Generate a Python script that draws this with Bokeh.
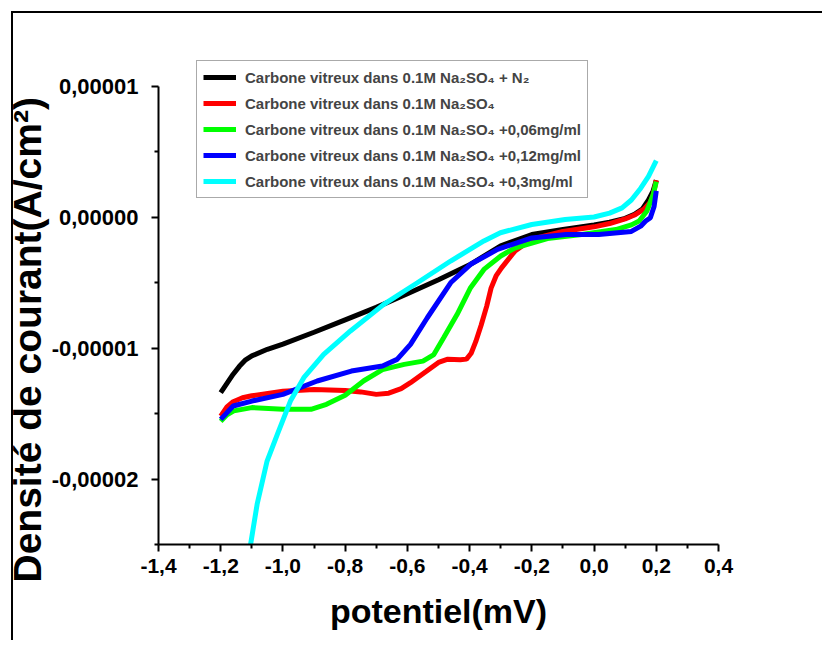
from bokeh.plotting import figure
from bokeh.models import Range1d, FixedTicker, Legend, LegendItem, Title
from bokeh.embed import file_html
from bokeh.resources import INLINE
import numpy as np

# ---- data (current density in units of 1e-5 A/cm^2) ----
SCALE = 1e-5

x_black = [-1.2, -1.18, -1.16, -1.14, -1.12, -1.1, -1.05, -1.0, -0.9, -0.8, -0.7, -0.6, -0.5, -0.4,
           -0.3, -0.2, -0.1, 0.0, 0.05, 0.1, 0.13, 0.155, 0.175, 0.19, 0.2]
y_black = [-1.34, -1.27, -1.2, -1.14, -1.09, -1.06, -1.01, -0.97, -0.88, -0.785, -0.69, -0.586, -0.479, -0.365,
           -0.22, -0.134, -0.095, -0.06, -0.04, -0.01, 0.02, 0.06, 0.13, 0.2, 0.28]

x_red = [-1.2, -1.18, -1.16, -1.13, -1.1, -1.0, -0.9, -0.8, -0.75, -0.7, -0.66, -0.62, -0.59, -0.54,
         -0.5, -0.47, -0.43, -0.41, -0.395, -0.38, -0.363, -0.345, -0.331, -0.315, -0.298, -0.255,
         -0.2, -0.1, 0.0, 0.05, 0.1, 0.13, 0.16, 0.18, 0.19, 0.2]
y_red = [-1.52, -1.45, -1.41, -1.38, -1.365, -1.33, -1.316, -1.325, -1.335, -1.354, -1.345, -1.31, -1.265, -1.18,
         -1.11, -1.085, -1.09, -1.085, -1.04, -0.95, -0.826, -0.68, -0.543, -0.45, -0.39, -0.262,
         -0.17, -0.11, -0.075, -0.05, -0.015, 0.015, 0.06, 0.11, 0.17, 0.28]

x_green = [-1.2, -1.18, -1.158, -1.1, -1.0, -0.91, -0.86, -0.8, -0.74, -0.68, -0.61, -0.55, -0.515,
           -0.483, -0.44, -0.397, -0.354, -0.3, -0.255, -0.15, -0.04, 0.07, 0.12, 0.145, 0.17, 0.19, 0.2]
y_green = [-1.56, -1.51, -1.48, -1.455, -1.468, -1.468, -1.43, -1.36, -1.25, -1.165, -1.125, -1.1, -1.05,
           -0.92, -0.743, -0.54, -0.4, -0.298, -0.237, -0.165, -0.134, -0.096, -0.06, -0.03, 0.046, 0.17, 0.27]

x_blue = [-1.2, -1.16, -1.1, -1.0, -0.89, -0.78, -0.68, -0.633, -0.59, -0.536, -0.461, -0.397, -0.31,
          -0.2, -0.09, 0.015, 0.12, 0.15, 0.166, 0.181, 0.193, 0.2]
y_blue = [-1.545, -1.443, -1.405, -1.354, -1.252, -1.176, -1.137, -1.087, -0.972, -0.769, -0.502, -0.361, -0.247,
          -0.16, -0.134, -0.134, -0.11, -0.07, -0.031, -0.005, 0.08, 0.2]

x_cyan = [-1.115, -1.104, -1.083, -1.051, -1.018, -0.976, -0.933, -0.869, -0.783, -0.676, -0.568, -0.461,
          -0.354, -0.301, -0.2, -0.093, 0.0, 0.05, 0.09, 0.12, 0.15, 0.175, 0.2]
y_cyan = [-2.8, -2.5, -2.193, -1.863, -1.659, -1.405, -1.227, -1.048, -0.87, -0.667, -0.502, -0.336,
          -0.183, -0.12, -0.057, -0.019, 0.0, 0.03, 0.07, 0.13, 0.22, 0.31, 0.43]

series_labels = [
    "Carbone vitreux dans 0.1M Na\u2082SO\u2084 + N\u2082",
    "Carbone vitreux dans 0.1M Na\u2082SO\u2084",
    "Carbone vitreux dans 0.1M Na\u2082SO\u2084 +0,06mg/ml",
    "Carbone vitreux dans 0.1M Na\u2082SO\u2084 +0,12mg/ml",
    "Carbone vitreux dans 0.1M Na\u2082SO\u2084 +0,3mg/ml",
]
series_colors = ["#000000", "#FF0000", "#00FF00", "#0000FF", "#00FFFF"]

x_ticks = [-1.4, -1.2, -1.0, -0.8, -0.6, -0.4, -0.2, 0.0, 0.2, 0.4]
x_tick_labels = ["-1,4", "-1,2", "-1,0", "-0,8", "-0,6", "-0,4", "-0,2", "0,0", "0,2", "0,4"]
x_minor = [-1.3, -1.1, -0.9, -0.7, -0.5, -0.3, -0.1, 0.1, 0.3]
y_ticks = [-2e-5, -1e-5, 0.0, 1e-5]
y_tick_labels = ["-0,00002", "-0,00001", "0,00000", "0,00001"]
y_minor = [-2.5e-5, -1.5e-5, -0.5e-5, 0.5e-5]
y_axis_bounds = (-2.5e-5, 1e-5)

FONT = "Liberation Sans"

p = figure(width=822, height=640, output_backend="svg", toolbar_location=None,
           x_range=Range1d(-1.4, 0.4), y_range=Range1d(-2.5e-5, 1.1947e-5),
           min_border_left=158, min_border_right=104, min_border_top=60, min_border_bottom=96)
# document box line (top + left) around the chart
p.styles = {
    "background-image": "linear-gradient(#000, #000), linear-gradient(#000, #000)",
    "background-size": "2px 100%, 100% 2px",
    "background-position": "11px 11px, 11px 11px",
    "background-repeat": "no-repeat",
}
p.outline_line_color = None
p.xgrid.visible = False
p.ygrid.visible = False
p.background_fill_color = "white"
p.border_fill_alpha = 0.0

all_x = [x_black, x_red, x_green, x_blue, x_cyan]
all_y = [y_black, y_red, y_green, y_blue, y_cyan]
renderers = []
for xs, ys, c in zip(all_x, all_y, series_colors):
    r = p.line(xs, list(np.array(ys) * SCALE), line_color=c, line_width=5)
    renderers.append(r)

legend = Legend(items=[LegendItem(label=l, renderers=[r]) for l, r in zip(series_labels, renderers)],
                location=(38, 346), orientation="vertical",
                label_text_font=FONT, label_text_font_style="bold", label_text_font_size="15px",
                glyph_width=33, glyph_height=20, label_height=20, spacing=6, padding=6,
                label_standoff=9, margin=0, border_line_color="#555555", border_line_width=1,
                background_fill_color="white", background_fill_alpha=1.0)
p.add_layout(legend)

for ax in (p.xaxis[0], p.yaxis[0]):
    ax.axis_line_width = 2
    ax.major_tick_line_width = 2
    ax.minor_tick_line_width = 2
    ax.major_tick_in = 0
    ax.major_tick_out = 7
    ax.minor_tick_in = 0
    ax.minor_tick_out = 4
    ax.major_label_text_font = FONT
    ax.major_label_text_font_style = "bold"
    ax.major_label_text_color = "black"
    ax.axis_label_text_font = FONT
    ax.axis_label_text_font_style = "bold"
    ax.axis_label_text_color = "black"

p.xaxis.ticker = FixedTicker(ticks=x_ticks, minor_ticks=x_minor)
p.xaxis.major_label_overrides = dict(zip(x_ticks, x_tick_labels))
p.xaxis.major_label_text_font_size = "21px"
p.xaxis.major_label_standoff = 7
p.xaxis.axis_label = "potentiel(mV)"
p.xaxis.axis_label_text_font_size = "34px"
p.xaxis.axis_label_standoff = 16

p.yaxis.ticker = FixedTicker(ticks=y_ticks, minor_ticks=y_minor)
p.yaxis.bounds = y_axis_bounds
p.yaxis.major_label_overrides = dict(zip(y_ticks, y_tick_labels))
p.yaxis.major_label_text_font_size = "22px"
p.yaxis.major_label_standoff = 13

ytitle = Title(text="Densité de courant(A/cm²)", align="left", offset=-38,
               text_font=FONT, text_font_style="bold", text_font_size="39px",
               text_color="black", standoff=0)
p.add_layout(ytitle, "left")

open("out.html", "w").write(file_html(p, INLINE))
